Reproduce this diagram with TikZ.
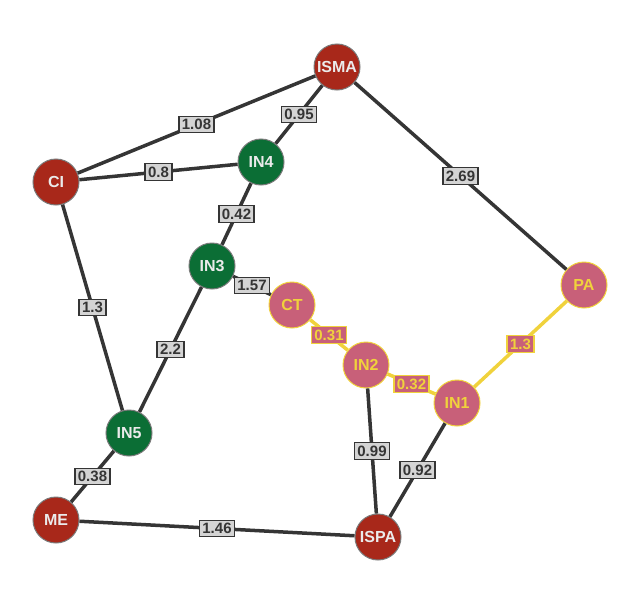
\documentclass[tikz,border=0pt]{standalone}
\usepackage{fontspec}
\setmainfont{Liberation Sans}
\usetikzlibrary{calc}
\definecolor{hubred}{HTML}{A8281A}
\definecolor{ingreen}{HTML}{0B6E35}
\definecolor{pathpink}{HTML}{C86079}
\definecolor{pathyellow}{HTML}{F0D23C}
\definecolor{edgegray}{HTML}{353535}
\definecolor{tagfill}{HTML}{D4D4D4}
\definecolor{ringgray}{HTML}{7A7A7A}
\begin{document}
\begin{tikzpicture}[x=1pt,y=-1pt,
  city/.style={circle, minimum size=46pt, inner sep=0pt, line width=1pt,
    font=\fontsize{16}{18}\selectfont\bfseries},
  hub/.style={city, fill=hubred, draw=ringgray, text=white!92!black},
  inner/.style={city, fill=ingreen, draw=ringgray, text=white!92!black},
  onpath/.style={city, fill=pathpink, draw=pathyellow, text=pathyellow},
  link/.style={edgegray, line width=3.5pt},
  hot/.style={pathyellow, line width=3.5pt},
  cost/.style={midway, fill=tagfill, draw=edgegray, line width=1.3pt,
    inner xsep=3pt, inner ysep=3pt, text height=10.5pt, text depth=0pt,
    text=edgegray, font=\fontsize{15}{17}\selectfont\bfseries},
  hotcost/.style={cost, fill=pathpink, draw=pathyellow, text=pathyellow}]
  \useasboundingbox (0,0) rectangle (640,605);

  % nodes
  \node[hub]    (ISMA) at (337,67)  {ISMA};
  \node[hub]    (CI)   at (56,182)  {CI};
  \node[hub]    (ME)   at (56,520)  {ME};
  \node[hub]    (ISPA) at (378,537) {ISPA};
  \node[inner]  (IN4)  at (261,162) {IN4};
  \node[inner]  (IN3)  at (212,266) {IN3};
  \node[inner]  (IN5)  at (129,433) {IN5};
  \node[onpath] (CT)   at (292,305) {CT};
  \node[onpath] (IN2)  at (366,365) {IN2};
  \node[onpath] (IN1)  at (457,403) {IN1};
  \node[onpath] (PA)   at (584,285) {PA};

  % plain edges
  \draw[link] (CI) -- (ISMA) node[cost] {1.08};
  \draw[link] (ISMA) -- (IN4) node[cost] {0.95};
  \draw[link] (CI) -- (IN4) node[cost] {0.8};
  \draw[link] (ISMA) -- (PA) node[cost] {2.69};
  \draw[link] (IN4) -- (IN3) node[cost] {0.42};
  \draw[link] (CI) -- (IN5) node[cost] {1.3};
  \draw[link] (IN3) -- (CT) node[cost] {1.57};
  \draw[link] (IN3) -- (IN5) node[cost] {2.2};
  \draw[link] (IN2) -- (ISPA) node[cost] {0.99};
  \draw[link] (IN1) -- (ISPA) node[cost] {0.92};
  \draw[link] (IN5) -- (ME) node[cost] {0.38};
  \draw[link] (ME) -- (ISPA) node[cost] {1.46};

  % highlighted path
  \draw[hot] (CT) -- (IN2) node[hotcost] {0.31};
  \draw[hot] (IN2) -- (IN1) node[hotcost] {0.32};
  \draw[hot] (IN1) -- (PA) node[hotcost] {1.3};
\end{tikzpicture}
\end{document}
